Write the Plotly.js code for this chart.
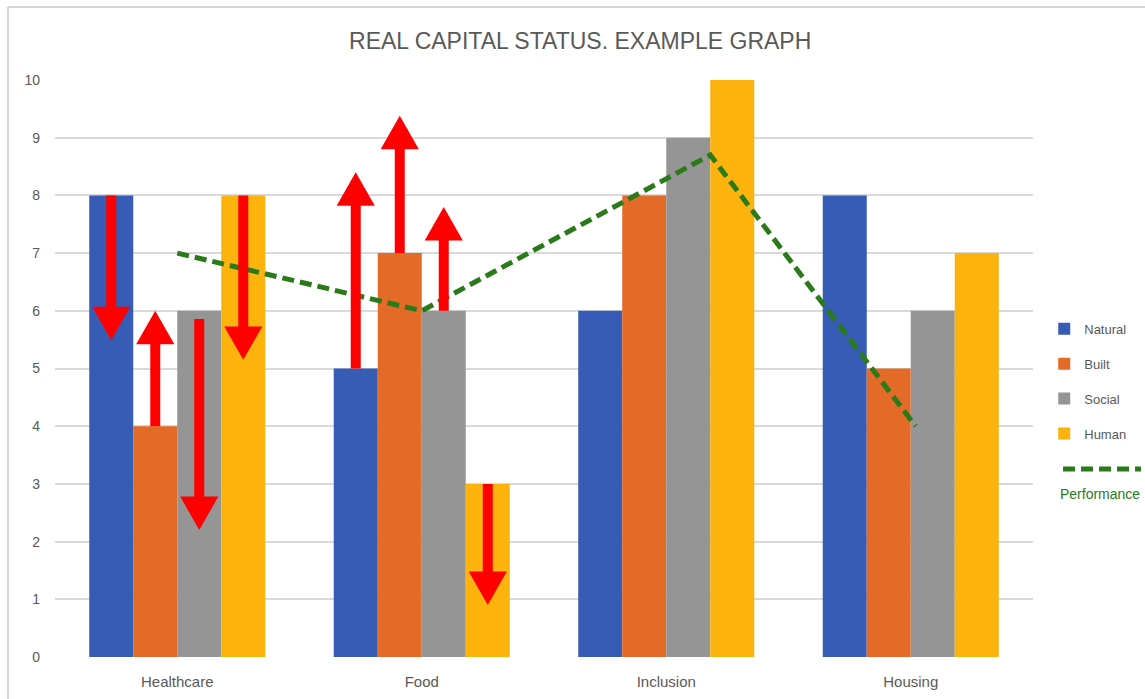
<!DOCTYPE html>
<html>
<head>
<meta charset="utf-8">
<script src="https://cdn.plot.ly/plotly-3.0.1.min.js"></script>
<style>
html,body{margin:0;padding:0;background:#fff;}
#chart{width:1145px;height:699px;}
</style>
</head>
<body>
<div id="chart"></div>
<script>
// ---- data ----
const categories = ["Healthcare", "Food", "Inclusion", "Housing"];
const categoryPos = [0, 1, 2, 3];
const seriesNames = ["Natural", "Built", "Social", "Human"];
const natural = [8, 5, 6, 8];
const built = [4, 7, 8, 5];
const social = [6, 6, 9, 6];
const human = [8, 3, 10, 7];
const yTicks = [0, 1, 2, 3, 4, 5, 6, 7, 8, 9, 10];

// performance line (hand-drawn positions)
const perfX = [0, 1, 2.18, 3.02];
const perfY = [7, 6, 8.7, 4];

// red change arrows: category index, series index, start value, tip value
const arrowCategory = [0, 0, 0, 0, 1, 1, 1, 1];
const arrowSeries = [0, 1, 2, 3, 0, 1, 2, 3];
const arrowFrom = [8, 4, 5.86, 8, 5, 7, 6, 3];
const arrowTo = [5.49, 6.0, 2.2, 5.15, 8.4, 9.38, 7.8, 0.9];

// ---- styles ----
const colors = ["#375cb5", "#e36a27", "#959595", "#fcb30d"];
const green = "#2b7a1a";
const textGray = "#595959";
const font = "'Liberation Sans Narrow', 'Liberation Sans', Arial, sans-serif";

const seriesValues = [natural, built, social, human];
const traces = seriesValues.map((vals, i) => ({
  type: "bar",
  name: seriesNames[i],
  x: categoryPos,
  y: vals,
  marker: {color: colors[i], line: {width: 0}},
  legendgroup: "g" + i,
  hoverinfo: "x+y+name"
}));

traces.push({
  type: "scatter",
  mode: "lines",
  name: "Performance",
  x: perfX,
  y: perfY,
  line: {color: green, width: 5, dash: "12px,6px"},
  showlegend: false
});

// bar geometry (group width 0.72, 4 bars)
const bargap = 0.28;
const barW = (1 - bargap) / 4;
const headHalf = 0.078;   // half width of arrow head, in x units
const headLen = 0.58;     // arrow head length, in y units

const shapes = [];
for (let k = 0; k < arrowCategory.length; k++) {
  const x = arrowCategory[k] - (1 - bargap) / 2 + barW * (arrowSeries[k] + 0.5);
  const from = arrowFrom[k], to = arrowTo[k];
  const dir = to > from ? 1 : -1;
  const base = to - dir * headLen;
  shapes.push({type: "line", xref: "x", yref: "y", x0: x, x1: x, y0: from, y1: base + dir * 0.05,
    line: {color: "#ff0000", width: 10}, layer: "above"});
  shapes.push({type: "path", xref: "x", yref: "y",
    path: `M ${x - headHalf} ${base} L ${x + headHalf} ${base} L ${x} ${to} Z`,
    fillcolor: "#ff0000", line: {width: 0}, layer: "above"});
}

// chart frame (top and left edges)
shapes.push({type: "line", xref: "paper", yref: "paper", x0: -0.0481, x1: 1.12, y0: 1.1265, y1: 1.1265,
  line: {color: "#d6d6d6", width: 2}});
shapes.push({type: "line", xref: "paper", yref: "paper", x0: -0.0481, x1: -0.0481, y0: 1.1265, y1: -0.08,
  line: {color: "#d6d6d6", width: 2}});

// performance legend entry
shapes.push({type: "line", xref: "paper", yref: "paper", x0: 1.0307, x1: 1.1104, y0: 0.3258, y1: 0.3258,
  line: {color: green, width: 5, dash: "12px,6px"}});

const layout = {
  width: 1145,
  height: 699,
  margin: {l: 55, r: 112, t: 80, b: 42},
  paper_bgcolor: "#ffffff",
  plot_bgcolor: "#ffffff",
  font: {family: font, color: textGray, size: 13},
  title: {
    text: "REAL CAPITAL STATUS. EXAMPLE GRAPH",
    font: {family: font, size: 23, color: textGray},
    x: 0.537, xref: "paper", xanchor: "center",
    y: 1 - 41 / 699, yanchor: "middle"
  },
  barmode: "group",
  bargap: bargap,
  bargroupgap: 0,
  showlegend: true,
  legend: {
    xref: "container", yref: "container",
    x: 0.912, xanchor: "left",
    y: 0.551, yanchor: "top",
    font: {family: font, size: 13, color: textGray},
    tracegroupgap: 15,
    itemwidth: 30,
    bgcolor: "rgba(0,0,0,0)"
  },
  xaxis: {
    range: [-0.5, 3.5],
    tickvals: categoryPos,
    ticktext: categories,
    showgrid: false,
    zeroline: false,
    showline: false,
    ticks: "",
    ticklabelstandoff: 14,
    tickfont: {family: font, size: 15, color: textGray},
    fixedrange: true
  },
  yaxis: {
    range: [0, 10],
    tickvals: yTicks,
    showgrid: true,
    gridcolor: "#d9d9d9",
    gridwidth: 2,
    zeroline: false,
    showline: false,
    ticks: "",
    ticklabelstandoff: 14,
    tickfont: {family: font, size: 14, color: textGray},
    fixedrange: true
  },
  shapes: shapes,
  annotations: [{
    xref: "paper", yref: "paper", x: 1.0685, y: 0.2825,
    text: "Performance", showarrow: false,
    font: {family: font, size: 14, color: green},
    xanchor: "center", yanchor: "middle"
  }]
};

Plotly.newPlot("chart", traces, layout, {displayModeBar: false, staticPlot: true});
</script>
</body>
</html>
